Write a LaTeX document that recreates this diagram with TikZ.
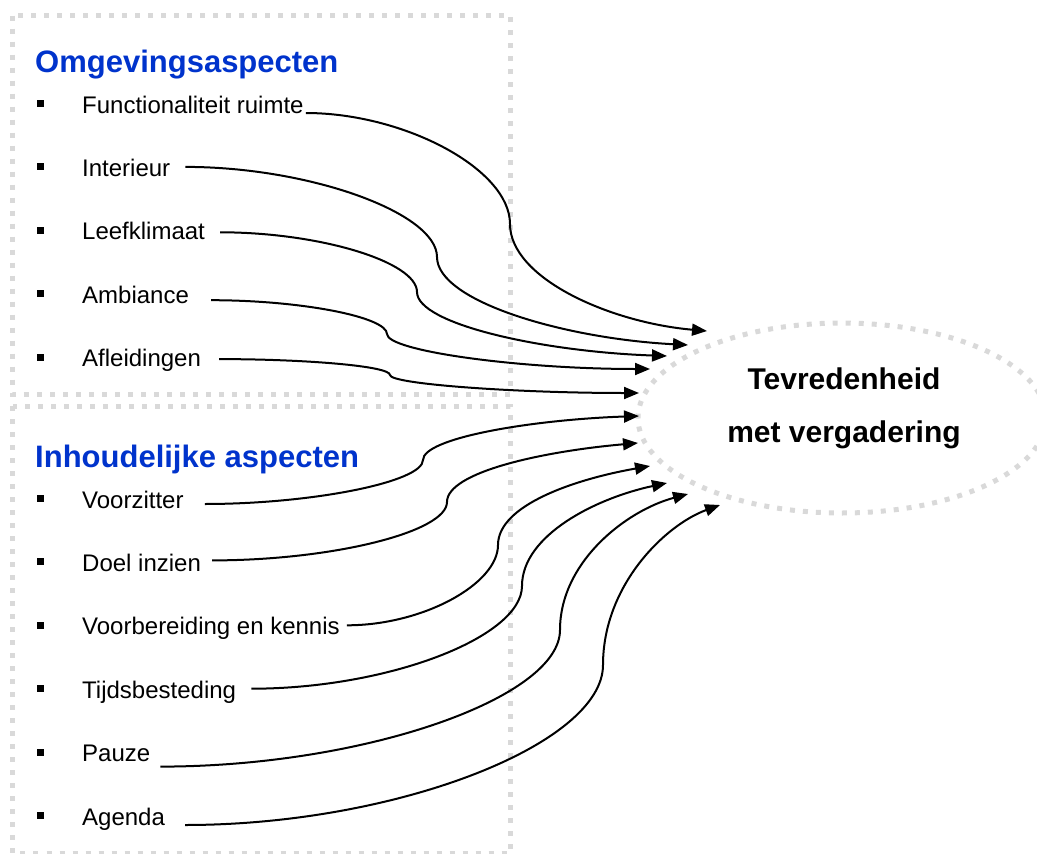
\documentclass[tikz,border=0pt]{standalone}
\usepackage{fontspec}
\setmainfont{Liberation Sans}
\usetikzlibrary{shapes,arrows.meta,positioning}
\definecolor{framegray}{RGB}{217,217,217}
\definecolor{headblue}{RGB}{0,51,204}
\tikzstyle{frame} = [draw=framegray, line width=5pt, dash pattern=on 5pt off 8pt]
\tikzstyle{heading} = [anchor=base west, inner sep=0pt, text=headblue,
    font=\fontsize{31}{36}\selectfont\bfseries]
\tikzstyle{item} = [inner sep=0pt, text height=22pt, text depth=3pt,
    font=\fontsize{24}{28}\selectfont]
\tikzstyle{bullet} = [rectangle, fill=black, minimum size=7pt, inner sep=0pt]
\tikzstyle{goal} = [ellipse, draw=framegray, line width=5pt, dash pattern=on 5pt off 8pt,
    minimum width=408pt, minimum height=190pt]
\tikzstyle{goaltext} = [align=center, inner sep=0pt, font=\fontsize{30}{53}\selectfont\bfseries]
\tikzstyle{conn} = [line width=2pt, -{Triangle[length=15pt,width=12pt]}]

\begin{document}
\begin{tikzpicture}[x=1pt, y=-1pt]
    \useasboundingbox (0,0) rectangle (1037,854);
    \draw[frame] (12.5,15.5) rectangle (510,394);
    \draw[frame] (12.5,406) rectangle (510,853);

    % Omgeving
    \node[heading] (omgeving) at (35,72) {Omgevingsaspecten};
    \node[item, anchor=base west] (func) at (82,113) {Functionaliteit ruimte};
    \node[item, below=38pt of func.south west, anchor=north west] (interieur) {Interieur};
    \node[item, below=38pt of interieur.south west, anchor=north west] (leefklimaat) {Leefklimaat};
    \node[item, below=38pt of leefklimaat.south west, anchor=north west] (ambiance) {Ambiance};
    \node[item, below=38pt of ambiance.south west, anchor=north west] (afleidingen) {Afleidingen};

    % Inhoud
    \node[heading] (inhoud) at (35,467) {Inhoudelijke aspecten};
    \node[item, anchor=base west] (voorzitter) at (82,508) {Voorzitter};
    \node[item, below=38pt of voorzitter.south west, anchor=north west] (doel) {Doel inzien};
    \node[item, below=38pt of doel.south west, anchor=north west] (voorbereiding) {Voorbereiding en kennis};
    \node[item, below=38pt of voorbereiding.south west, anchor=north west] (tijd) {Tijdsbesteding};
    \node[item, below=38pt of tijd.south west, anchor=north west] (pauze) {Pauze};
    \node[item, below=38pt of pauze.south west, anchor=north west] (agenda) {Agenda};

    \node[bullet, left=38pt of func] (func-dot) {};
    \node[bullet, left=38pt of interieur] (interieur-dot) {};
    \node[bullet, left=38pt of leefklimaat] (leefklimaat-dot) {};
    \node[bullet, left=38pt of ambiance] (ambiance-dot) {};
    \node[bullet, left=38pt of afleidingen] (afleidingen-dot) {};
    \node[bullet, left=38pt of voorzitter] (voorzitter-dot) {};
    \node[bullet, left=38pt of doel] (doel-dot) {};
    \node[bullet, left=38pt of voorbereiding] (voorbereiding-dot) {};
    \node[bullet, left=38pt of tijd] (tijd-dot) {};
    \node[bullet, left=38pt of pauze] (pauze-dot) {};
    \node[bullet, left=38pt of agenda] (agenda-dot) {};

    % Tevredenheid
    \node[goal] (tevreden) at (842,418) {};
    \node[goaltext] (tevreden-text) at ([xshift=2pt,yshift=10pt]tevreden.center) {Tevredenheid\\met vergadering};

    \coordinate (func-in) at (707,331);
    \coordinate (interieur-in) at (688,345);
    \coordinate (leefklimaat-in) at (667,356);
    \coordinate (ambiance-in) at (650,369);
    \coordinate (afleidingen-in) at (639,393);
    \coordinate (voorzitter-in) at (639,416);
    \coordinate (doel-in) at (638,443);
    \coordinate (voorbereiding-in) at (650,466);
    \coordinate (tijd-in) at (667,483);
    \coordinate (pauze-in) at (688,494);
    \coordinate (agenda-in) at (720,505);

    \path[draw,conn] ([xshift=2pt,yshift=-9.5pt]func.east) to[out=0,in=90,out distance=98pt,in distance=55pt] (510,224)
        to[out=-90,in=175,out distance=54pt,in distance=98pt] (func-in);
    \path[draw,conn] ([xshift=15pt]interieur.east) to[out=0,in=90,out distance=124pt,in distance=44pt] (437,257)
        to[out=-90,in=177,out distance=44pt,in distance=125pt] (interieur-in);
    \path[draw,conn] ([xshift=15pt,yshift=-2pt]leefklimaat.east) to[out=0,in=90,out distance=100pt,in distance=30pt] (417,292)
        to[out=-90,in=178,out distance=32pt,in distance=125pt] (leefklimaat-in);
    \path[draw,conn] ([xshift=22pt,yshift=-6.5pt]ambiance.east) to[out=0,in=90,out distance=90pt,in distance=17pt] (387,334)
        to[out=-90,in=180,out distance=17pt,in distance=131pt] (ambiance-in);
    \path[draw,conn] ([xshift=18pt,yshift=-2pt]afleidingen.east) to[out=0,in=90,out distance=86pt,in distance=9pt] (390,375)
        to[out=-90,in=180,out distance=9pt,in distance=124pt] (afleidingen-in);

    \path[draw,conn] ([xshift=21pt,yshift=-5.5pt]voorzitter.east) to[out=0,in=-90,out distance=107pt,in distance=22pt] (423,460)
        to[out=90,in=182,out distance=22pt,in distance=108pt] (voorzitter-in);
    \path[draw,conn] ([xshift=11pt,yshift=1.5pt]doel.east) to[out=0,in=-90,out distance=120pt,in distance=30pt] (447,502)
        to[out=90,in=185,out distance=30pt,in distance=95pt] (doel-in);
    \path[draw,conn] ([xshift=7pt]voorbereiding.east) to[out=0,in=-90,out distance=76pt,in distance=39pt] (498,545)
        to[out=90,in=190,out distance=40pt,in distance=76pt] (voorbereiding-in);
    \path[draw,conn] ([xshift=15pt]tijd.east) to[out=0,in=-90,out distance=137pt,in distance=51pt] (522,586)
        to[out=90,in=192,out distance=51pt,in distance=72pt] (tijd-in);
    \path[draw,conn] ([xshift=10pt,yshift=-14.5pt]pauze.east) to[out=0,in=-90,out distance=203pt,in distance=68pt] (560,630)
        to[out=90,in=195,out distance=68pt,in distance=64pt] (pauze-in);
    \path[draw,conn] ([xshift=20pt,yshift=-9.5pt]agenda.east) to[out=0,in=-90,out distance=211pt,in distance=79pt] (603,665)
        to[out=90,in=200,out distance=80pt,in distance=58pt] (agenda-in);
\end{tikzpicture}
\end{document}
